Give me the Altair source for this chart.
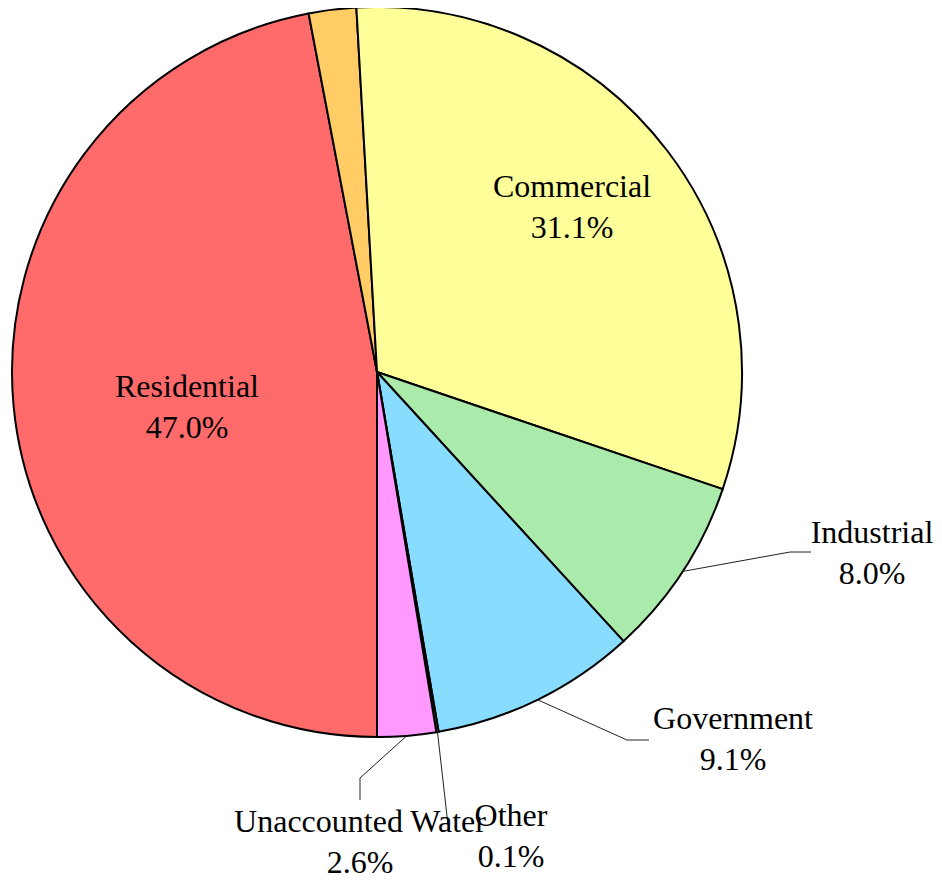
import math
import altair as alt
import pandas as pd

# ---- data ----
categories = ["Residential", "Unlabeled", "Commercial", "Industrial",
              "Government", "Other", "Unaccounted Water"]
shares = [47.0, 2.1, 31.1, 8.0, 9.1, 0.1, 2.6]
show_label = [True, False, True, True, True, True, True]

# ---- styles / layout ----
colors = ["#FF6B6B", "#FFCC66", "#FFFF99", "#AAEAAA", "#88DDFF", "#BBBBBB", "#FF99FF"]
W, H = 926, 868          # drawing area
CX, CY = 369, 364        # pie centre inside drawing area
R = 365                  # pie radius
START = math.pi          # pie starts at 6 o'clock, clockwise
FONT = "Liberation Serif"
FS = 32
LINE = 41

# label anchors: centre of first text line (offset from pie centre, px, y down)
label_pos = {
    "Residential": (-190, 15),
    "Commercial": (195, -185),
    "Industrial": (495, 161),
    "Government": (356, 347),
    "Other": (134, 444),
    "Unaccounted Water": (-17, 450),
}
# leader line elbow and end (offset from centre, px, y down)
leaders = {
    "Industrial": [(413, 180), (434, 180)],
    "Government": [(250, 368), (272, 368)],
    "Unaccounted Water": [(-17, 406), (-17, 428)],
    "Other": [(71, 453)],
}

df = pd.DataFrame({"category": categories, "share": shares,
                   "idx": list(range(len(categories)))})

total = sum(shares)
cum = 0.0
mids = {}
for c, s in zip(categories, shares):
    mids[c] = START + 2 * math.pi * (cum + s / 2) / total
    cum += s

lab_rows = []
for c, s, show in zip(categories, shares, show_label):
    if not show:
        continue
    lx, ly = label_pos[c]
    lab_rows.append({"category": c, "pct": f"{s:.1f}%", "x": lx, "y": ly})
labels = pd.DataFrame(lab_rows)

line_rows = []
for c, pts in leaders.items():
    a = mids[c]
    line_rows.append({"category": c, "k": 0, "x": R * math.sin(a), "y": -R * math.cos(a)})
    for k, (px, py) in enumerate(pts, start=1):
        line_rows.append({"category": c, "k": k, "x": px, "y": py})
lines = pd.DataFrame(line_rows)

xs = alt.Scale(domain=[-CX, W - CX], nice=False, zero=False)
ys = alt.Scale(domain=[-CY, H - CY], nice=False, zero=False, reverse=True)

pie = alt.Chart(df).mark_arc(outerRadius=R, stroke="black", strokeWidth=2).encode(
    theta=alt.Theta("share:Q", stack=True,
                    scale=alt.Scale(range=[START, START + 2 * math.pi])),
    color=alt.Color("category:N", scale=alt.Scale(domain=categories, range=colors),
                    legend=None),
    order=alt.Order("idx:Q"),
    x=alt.value(CX),
    y=alt.value(CY),
)

leader = alt.Chart(lines).mark_line(color="#222222", strokeWidth=1).encode(
    x=alt.X("x:Q", scale=xs, axis=None),
    y=alt.Y("y:Q", scale=ys, axis=None),
    detail="category:N",
    order="k:Q",
)

name_text = alt.Chart(labels).mark_text(
    font=FONT, fontSize=FS, align="center", baseline="middle", color="black",
).encode(
    x=alt.X("x:Q", scale=xs, axis=None),
    y=alt.Y("y:Q", scale=ys, axis=None),
    text="category:N",
)

pct_text = alt.Chart(labels).mark_text(
    font=FONT, fontSize=FS, align="center", baseline="middle", color="black", dy=LINE,
).encode(
    x=alt.X("x:Q", scale=xs, axis=None),
    y=alt.Y("y:Q", scale=ys, axis=None),
    text="pct:N",
)

chart = alt.layer(pie, leader, name_text, pct_text).properties(
    width=W, height=H, autosize=alt.AutoSizeParams(type="none"), padding=0,
).configure_view(stroke=None)

chart.save("out.html", embed_options={"renderer": "svg", "actions": False})
